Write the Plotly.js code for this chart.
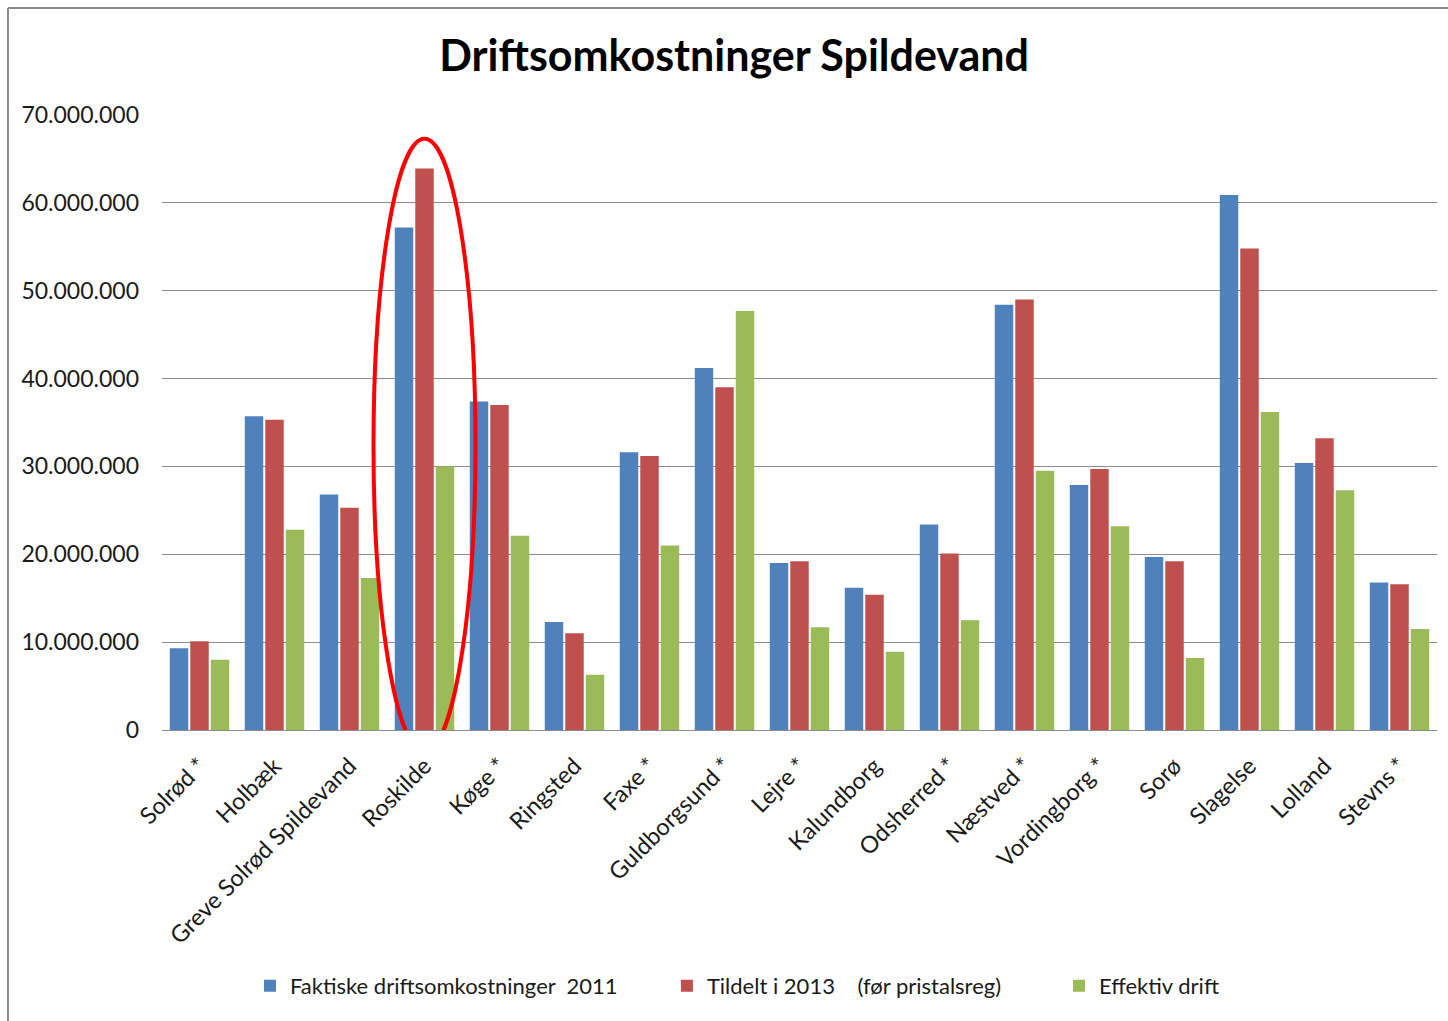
<!DOCTYPE html>
<html>
<head>
<meta charset="utf-8">
<script src="https://cdn.plot.ly/plotly-3.0.1.min.js"></script>
<style>html,body{margin:0;padding:0;background:#fff;}#chart{width:1448px;height:1021px;}</style>
</head>
<body>
<div id="chart"></div>
<script>
const categories = ["Solrød *","Holbæk","Greve Solrød Spildevand","Roskilde","Køge *","Ringsted","Faxe *","Guldborgsund *","Lejre *","Kalundborg","Odsherred *","Næstved *","Vordingborg *","Sorø","Slagelse","Lolland","Stevns *"];
const faktiske2011 = [9300000,35700000,26800000,57200000,37400000,12300000,31600000,41200000,19000000,16200000,23400000,48400000,27900000,19700000,60900000,30400000,16800000];
const tildelt2013 = [10100000,35300000,25300000,63900000,37000000,11000000,31200000,39000000,19200000,15400000,20100000,49000000,29700000,19200000,54800000,33200000,16600000];
const effektivDrift = [8000000,22800000,17300000,30000000,22100000,6300000,21000000,47700000,11700000,8900000,12500000,29500000,23200000,8200000,36200000,27300000,11500000];
const seriesNames = ["Faktiske driftsomkostninger&nbsp;&nbsp;2011","Tildelt i 2013&nbsp;&nbsp;&nbsp;&nbsp;(før pristalsreg)","Effektiv drift"];
const colors = ["#4F81BD","#C0504D","#9BBB59"];
const legendIds = ["legend","legend2","legend3"];

const font = "Lato, 'Open Sans', sans-serif";
const data = [faktiske2011, tildelt2013, effektivDrift].map((vals,i)=>({
  type:"bar", x:categories, y:vals, name:seriesNames[i],
  marker:{color:colors[i]}, legend:legendIds[i], showlegend:true
}));

function leg(x){
  return {orientation:"h", x:x, xanchor:"left", y:-0.416, yanchor:"middle",
    font:{size:22, color:"#1a1a1a"}, bgcolor:"rgba(0,0,0,0)", borderwidth:0};
}

const layout = {
  width:1448, height:1021,
  showlegend:true,
  paper_bgcolor:"#fff", plot_bgcolor:"#fff",
  margin:{l:162, r:11, t:115, b:291},
  separators:",.",
  font:{family:font, color:"#1a1a1a", size:22},
  title:{text:"<b>Driftsomkostninger Spildevand</b>", font:{family:font, size:43, color:"#000"}, x:0.507, xanchor:"center", y:0.945, yanchor:"middle"},
  bargap:0.18, bargroupgap:0.1, barmode:"group",
  xaxis:{type:"category", tickangle:-45, showline:true, linecolor:"#8c8c8c", linewidth:1, showgrid:false, ticks:"", ticklabelstandoff:12, tickfont:{size:23.5, color:"#1a1a1a"}},
  yaxis:{range:[0,70000000], dtick:10000000, tickformat:",d", showgrid:true, gridcolor:"#8c8c8c", gridwidth:1, zeroline:false, showline:false, ticks:"", ticklabelstandoff:22, tickfont:{size:23, color:"#1a1a1a"}},
  legend:leg(0.069), legend2:leg(0.396), legend3:leg(0.7035),
  shapes:[
    {type:"circle", xref:"x", yref:"y", x0:2.32, x1:3.68, y0:-2500000, y1:67300000, line:{color:"#ff0000", width:4}, layer:"above"},
    {type:"line", xref:"paper", yref:"paper", x0:-0.1208, x1:-0.1208, y0:1.174, y1:-0.48, line:{color:"#8c8c8c", width:2}},
    {type:"line", xref:"paper", yref:"paper", x0:-0.1208, x1:1.02, y0:1.174, y1:1.174, line:{color:"#8c8c8c", width:2}}
  ]
};
Plotly.newPlot("chart", data, layout, {displayModeBar:false});
</script>
</body>
</html>
